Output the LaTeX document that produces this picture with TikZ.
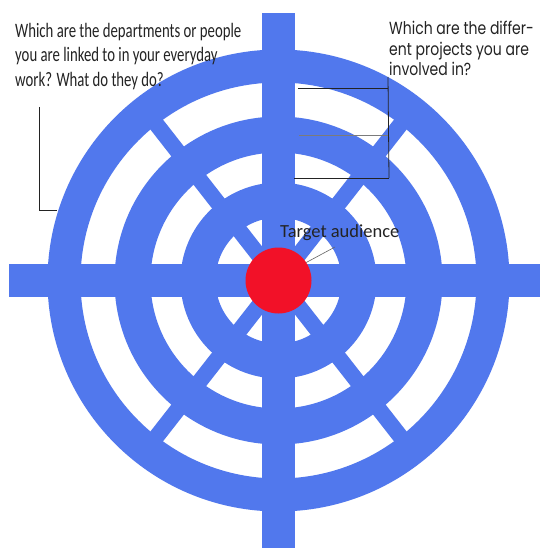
\documentclass[tikz,border=0pt]{standalone}
\usepackage{fontspec}
\usetikzlibrary{calc}
\newfontfamily\handfont[FakeStretch=0.72]{Carlito}
\newfontfamily\plainfont{Carlito}
\newfontfamily\roundfont[FakeStretch=0.8]{Poppins}
\definecolor{ringblue}{RGB}{81,120,237}
\definecolor{bullred}{RGB}{242,17,40}
\definecolor{leadgrey}{RGB}{35,35,35}

\begin{document}
\begin{tikzpicture}[
    x=1pt, y=-1pt,
    ring/.style={draw=ringblue, line width=#1},
    spoke/.style={draw=ringblue, line width=16pt},
    bar/.style={fill=ringblue},
    ask/.style={inner sep=0pt, align=left, anchor=north west, text=leadgrey},
    lead/.style={draw=leadgrey, line width=0.8pt},
]
\useasboundingbox[fill=white] (0,0) rectangle (540,548);
\coordinate (c) at (278.5,280.5);

% ------------------------------------------------------------ spokes ---
\foreach \a in {52,128,232,308}
  \draw[spoke] (c) -- ++(\a:214);

% ------------------------------------------------------------- rings ---
\draw[ring=35pt] (c) circle[radius=80.5];
\draw[ring=36pt] (c) circle[radius=146];
\draw[ring=33pt] (c) circle[radius=214.5];

% -------------------------------------------------------------- bars ---
\fill[bar] (9,264) rectangle (540,297);
\fill[bar] (262,13) rectangle (295,548);

% -------------------------------------------------------------- bull ---
\fill[bullred] (c) circle[radius=33];

% ------------------------------------------------------------- texts ---
\node[ask, font=\handfont\fontsize{20.5}{24.3}\selectfont] (dept) at (15,23)
  {Which are the departments or people\\you are linked to in your everyday\\work? What do they do?};
\node[ask, font=\roundfont\fontsize{17.5}{20.5}\selectfont] (proj) at (389,21)
  {Which are the differ-\\ent projects you are\\involved in?};
\node[ask, font=\plainfont\fontsize{18.5}{22}\selectfont] (aud) at (280,224) {Target audience};

% ------------------------------------------------------------- leads ---
\coordinate (dtop) at (39,107);
\coordinate (dbot) at (39,210);
\coordinate (dend) at (57,210);
\draw[lead] (dtop) -- (dbot) -- (dend);

\coordinate (pa) at (298,88);
\coordinate (pb) at (388,88);
\coordinate (pc) at (299,135);
\coordinate (pd) at (388,135);
\coordinate (pe) at (294,178);
\coordinate (pf) at (389,178);
\coordinate (ptop) at (388,77);
\draw[lead] (pa) -- (pb);
\draw[lead, draw=leadgrey!60] (pc) -- (pd);
\draw[lead] (pe) -- (pf);
\draw[lead] (ptop) -- (pf);

\coordinate (adot) at ($(c)+(-33:33)$);
\coordinate (aend) at (335,247);
\draw[lead, draw=leadgrey!70, line width=0.6pt] (adot) -- (aend);

\end{tikzpicture}
\end{document}
